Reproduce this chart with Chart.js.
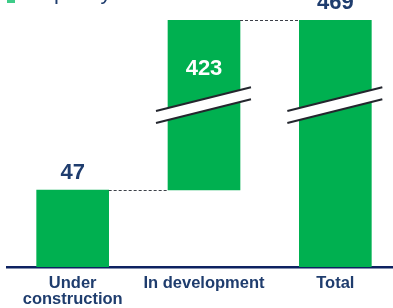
<!DOCTYPE html>
<html>
<head>
<meta charset="utf-8">
<script src="https://cdn.jsdelivr.net/npm/chart.js@4/dist/chart.umd.min.js"></script>
<style>
  html, body { margin: 0; padding: 0; background: #fff; overflow: hidden; }
  #wrap { width: 401px; height: 308px; position: relative; }
</style>
</head>
<body>
<div id="wrap"><canvas id="chart"></canvas></div>
<script>
const categories = [['Under', 'construction'], 'In development', 'Total'];
const values = [47, 423, 469];
const legendText = 'Capacity';

const GREEN = '#00b050';
const NAVY = '#1f3d6e';

// broken axis: everything above BREAK_FROM is squeezed
const BREAK_FROM = 60;
const SQUEEZE = 0.2214;
function squeeze(v) {
    return v <= BREAK_FROM ? v : BREAK_FROM + (v - BREAK_FROM) * SQUEEZE;
}

// waterfall: first two stack up, last one is the total from zero
const floating = [
    [0, squeeze(values[0])],
    [squeeze(values[0]), squeeze(values[0] + values[1])],
    [0, squeeze(values[2])]
];
const yMax = Math.max(...floating.map(d => d[1]));

const extras = {
    id: 'extras',
    afterDatasetsDraw(chart) {
        const ctx = chart.ctx;
        const bars = chart.getDatasetMeta(0).data;
        const box = bars.map(b => {
            const p = b.getProps(['x', 'y', 'base', 'width'], true);
            return { left: p.x - p.width / 2, right: p.x + p.width / 2, x: p.x, top: Math.min(p.y, p.base), bottom: Math.max(p.y, p.base) };
        });

        ctx.save();
        // connectors
        ctx.strokeStyle = '#3c4048';
        ctx.lineWidth = 1;
        ctx.setLineDash([3, 2]);
        ctx.beginPath();
        ctx.moveTo(box[0].right, box[0].top + 0.5);
        ctx.lineTo(box[1].left, box[0].top + 0.5);
        ctx.moveTo(box[1].right, box[1].top + 0.5);
        ctx.lineTo(box[2].left, box[1].top + 0.5);
        ctx.stroke();
        ctx.setLineDash([]);

        // axis break marks on bars 2 and 3
        const yc = (box[1].top + box[1].bottom) / 2;
        [box[1], box[2]].forEach(b => {
            const xa = b.left - 12, xb = b.right + 11;
            const yAt = (x, off) => yc + off - 0.25 * (x - b.x);
            ctx.fillStyle = '#fff';
            ctx.beginPath();
            ctx.moveTo(xa, yAt(xa, -6));
            ctx.lineTo(xb, yAt(xb, -6));
            ctx.lineTo(xb, yAt(xb, 6));
            ctx.lineTo(xa, yAt(xa, 6));
            ctx.closePath();
            ctx.fill();
            ctx.strokeStyle = '#24262e';
            ctx.lineWidth = 2;
            ctx.beginPath();
            ctx.moveTo(xa, yAt(xa, -6));
            ctx.lineTo(xb, yAt(xb, -6));
            ctx.moveTo(xa, yAt(xa, 6));
            ctx.lineTo(xb, yAt(xb, 6));
            ctx.stroke();
        });

        // value labels
        ctx.font = 'bold 22px "Liberation Sans", Arial, sans-serif';
        ctx.textAlign = 'center';
        ctx.textBaseline = 'alphabetic';
        ctx.fillStyle = NAVY;
        ctx.fillText(String(values[0]), box[0].x, box[0].top - 11);
        ctx.fillText(String(values[2]), box[2].x, box[2].top - 11);
        ctx.fillStyle = '#ffffff';
        ctx.fillText(String(values[1]), box[1].x, box[1].top + 55);

        // legend, mostly cut off at the top
        ctx.fillStyle = '#3dcc88';
        ctx.fillRect(7, -5, 8, 8);
        ctx.fillStyle = NAVY;
        ctx.textAlign = 'left';
        ctx.font = '22px "Liberation Sans", Arial, sans-serif';
        ctx.fillText(legendText, 26, -1);
        ctx.restore();
    }
};

new Chart(document.getElementById('chart'), {
    type: 'bar',
    data: {
        labels: categories,
        datasets: [{
            data: floating,
            backgroundColor: GREEN,
            borderWidth: 0,
            barThickness: 72
        }]
    },
    options: {
        responsive: true,
        maintainAspectRatio: false,
        animation: false,
        layout: { padding: { top: 20, left: 7, right: 0, bottom: 0 } },
        plugins: { legend: { display: false }, tooltip: { enabled: false } },
        scales: {
            x: {
                grid: { display: false, drawTicks: false },
                border: { display: true, color: '#0d2261', width: 2.5 },
                ticks: {
                    color: NAVY,
                    padding: 8,
                    font: { family: '"Liberation Sans", Arial, sans-serif', size: 16.5, weight: 'bold', lineHeight: 1.0 },
                    maxRotation: 0,
                    autoSkip: false
                },
                afterFit(scale) { scale.height = 41; }
            },
            y: {
                display: false,
                min: 0,
                max: yMax
            }
        }
    },
    plugins: [extras]
});
</script>
</body>
</html>
